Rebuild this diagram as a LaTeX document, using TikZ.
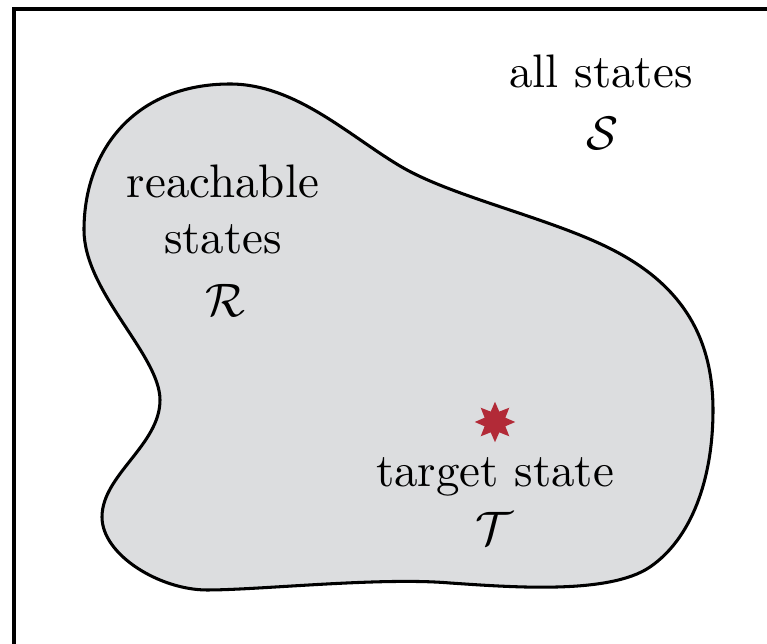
\documentclass[tikz,border=0pt]{standalone}
\usetikzlibrary{shapes.geometric}
\definecolor{blobgray}{HTML}{DCDDDF}
\definecolor{starred}{HTML}{B22A37}
\begin{document}
\begin{tikzpicture}[x=0.2128pt,y=-0.2128pt,
  lbl/.style={anchor=base, inner sep=0pt},
  blob/.style={fill=blobgray, draw=black, line width=0.65pt},
  frame/.style={draw=black, line width=0.9pt},
  targetstar/.style={star, star points=8, star point ratio=1.8, fill=starred, draw=none, inner sep=0pt, minimum size=8.6pt}]
\useasboundingbox (0,0) rectangle (767,644);
\clip (0,0) rectangle (767,644);
\draw[frame] (14,9) rectangle (800,700);
\path[blob] (230,84)
  .. controls (295,84) and (348,135) .. (400,166)
  .. controls (452,197) and (551,218) .. (613,250)
  .. controls (675,282) and (713,330) .. (713,410)
  .. controls (713,480) and (691,539) .. (650,567)
  .. controls (609,595) and (510,587) .. (450,583)
  .. controls (380,577) and (260,590) .. (207,590)
  .. controls (160,590) and (102,555) .. (102,517)
  .. controls (102,475) and (160,445) .. (160,400)
  .. controls (160,355) and (84,292) .. (84,230)
  .. controls (84,150) and (135,84) .. (230,84) -- cycle;
\node[lbl] (all) at (601,88) {all states};
\node[lbl] (S) at (602,150) {$\mathcal{S}$};
\node[lbl] (reach) at (223,198) {reachable};
\node[lbl] (states) at (223,254) {states};
\node[lbl] (R) at (225,317) {$\mathcal{R}$};
\node[targetstar] (star) at (495,422) {};
\node[lbl] (target) at (495,487) {target state};
\node[lbl] (T) at (494,545) {$\mathcal{T}$};
\end{tikzpicture}
\end{document}
